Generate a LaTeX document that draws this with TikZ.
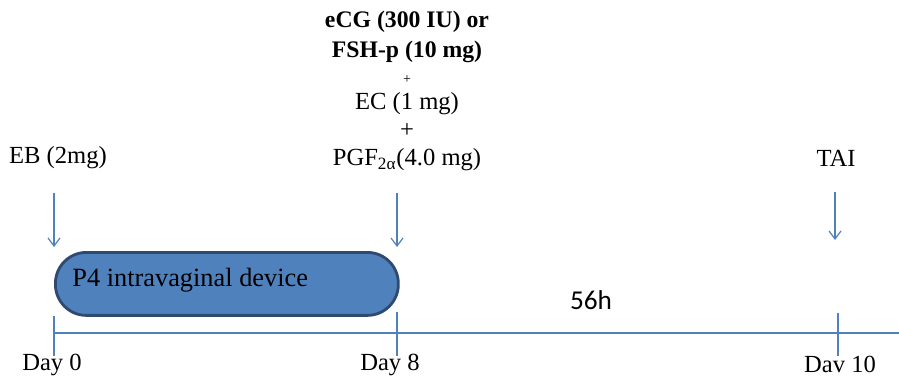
\documentclass[tikz,border=0pt]{standalone}
\usepackage{fontspec}
\setmainfont{Liberation Serif}
\newfontfamily\calfont{Carlito}
\usepackage{xcolor}
\usetikzlibrary{arrows.meta, positioning}

\definecolor{lineblue}{HTML}{4F81BD}
\definecolor{boxblue}{HTML}{4F81BD}
\definecolor{boxedge}{HTML}{2E4A70}

\begin{document}
\begin{tikzpicture}[
  x=0.02cm, y=-0.02cm,
  every node/.style={font=\fontsize{14}{16}\selectfont, inner sep=0pt},
  axisline/.style={draw=lineblue, line width=0.7pt},
  dose/.style={draw=lineblue, line width=0.7pt, -{Straight Barb[length=1.6mm, width=2.4mm]}},
  device/.style={draw=boxedge, line width=1.6pt, fill=boxblue, rounded corners=0.62cm,
    minimum width=6.86cm, minimum height=1.26cm, anchor=north west},
  daylabel/.style={anchor=base},
  boldline/.style={font=\bfseries\fontsize{13.5}{16}\selectfont}
]
  \useasboundingbox (0,0) rectangle (899,376);

  % time axis and ticks
  \coordinate (axisstart) at (53,333);
  \coordinate (axisend) at (899,333);
  \draw[axisline] (axisstart) -- (axisend);
  \coordinate (t0top) at (54,316);   \coordinate (t0bot) at (54,356);
  \coordinate (t8top) at (397,312);  \coordinate (t8bot) at (397,356);
  \coordinate (t10top) at (838,313); \coordinate (t10bot) at (838,356);
  \draw[axisline] (t0top) -- (t0bot);
  \draw[axisline] (t8top) -- (t8bot);
  \draw[axisline] (t10top) -- (t10bot);

  % day labels
  \node[daylabel] (day0) at (52,370) {Day 0};
  \node[daylabel] (day8) at (390,370) {Day 8};
  \node[daylabel] (day10) at (840,372) {Dav 10};

  % progesterone device
  \node[device] (p4) at (54,251) {};
  \node[anchor=west, font=\fontsize{15}{17}\selectfont] (p4text) at (72,280) {P4 intravaginal device};

  \node[font=\calfont\fontsize{15.5}{18}\selectfont] (gap) at (591,300) {56h};

  % treatments
  \node (eb) at (58,158) {EB (2mg)};
  \node (tai) at (836,158) {TAI};
  \node[boldline] (ecg) at (407,22) {eCG (300 IU) or};
  \node[boldline] (fsh) at (407,52) {FSH-p (10 mg)};
  \node[font=\fontsize{8}{9}\selectfont] (plusa) at (407,80) {+};
  \node (ec) at (407,104) {EC (1 mg)};
  \node (plusb) at (407,131) {+};
  \node (pgf) at (407,160) {PGF\textsubscript{2α}(4.0 mg)};

  % injection arrows
  \coordinate (ebtail) at (54,193);   \coordinate (ebtip) at (54,247);
  \coordinate (pgftail) at (397,193); \coordinate (pgftip) at (397,247);
  \coordinate (taitail) at (835,192); \coordinate (taitip) at (835,240);
  \draw[dose] (ebtail) -- (ebtip);
  \draw[dose] (pgftail) -- (pgftip);
  \draw[dose] (taitail) -- (taitip);
\end{tikzpicture}
\end{document}
